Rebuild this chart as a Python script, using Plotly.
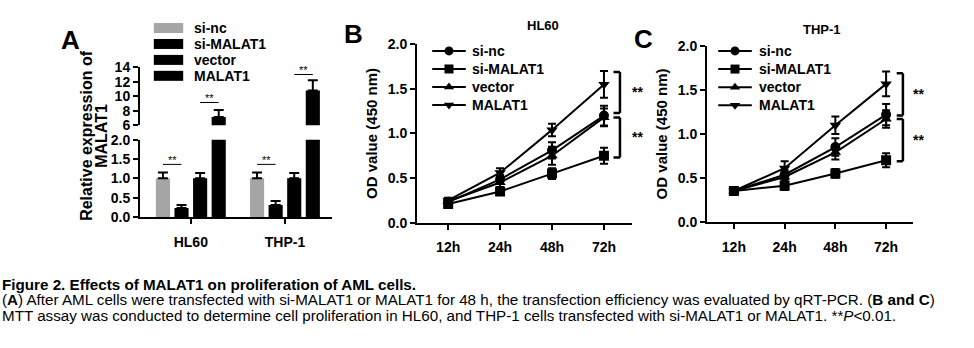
import plotly.graph_objects as go

W, H = 974, 348

# ---------------- data ----------------
series = ["si-nc", "si-MALAT1", "vector", "MALAT1"]
cells = ["HL60", "THP-1"]
bar_vals = {"si-nc": [1.0, 1.0], "si-MALAT1": [0.23, 0.31], "vector": [1.0, 1.0], "MALAT1": [7.15, 10.78]}
bar_errs = {"si-nc": [0.15, 0.15], "si-MALAT1": [0.08, 0.10], "vector": [0.14, 0.14], "MALAT1": [0.95, 1.42]}
bar_colors = {"si-nc": "#a5a5a7", "si-MALAT1": "#000000", "vector": "#000000", "MALAT1": "#000000"}

times = ["12h", "24h", "48h", "72h"]
hl60_vals = {"si-nc": [0.23, 0.485, 0.81, 1.20], "si-MALAT1": [0.21, 0.35, 0.55, 0.75],
             "vector": [0.24, 0.45, 0.75, 1.18], "MALAT1": [0.25, 0.56, 1.04, 1.55]}
hl60_errs = {"si-nc": [0.03, 0.05, 0.09, 0.11], "si-MALAT1": [0.03, 0.04, 0.06, 0.09],
             "vector": [0.03, 0.05, 0.10, 0.10], "MALAT1": [0.03, 0.05, 0.07, 0.15]}
thp1_vals = {"si-nc": [0.35, 0.535, 0.85, 1.22], "si-MALAT1": [0.35, 0.41, 0.55, 0.70],
             "vector": [0.35, 0.51, 0.79, 1.17], "MALAT1": [0.35, 0.61, 1.10, 1.57]}
thp1_errs = {"si-nc": [0.02, 0.05, 0.10, 0.12], "si-MALAT1": [0.02, 0.05, 0.05, 0.08],
             "vector": [0.02, 0.05, 0.08, 0.10], "MALAT1": [0.02, 0.08, 0.10, 0.14]}
symbols = {"si-nc": "circle", "si-MALAT1": "square", "vector": "triangle-up", "MALAT1": "triangle-down"}

caption1 = "<b>Figure 2. Effects of MALAT1 on proliferation of AML cells.</b>"
caption2 = ("(<b>A</b>) After AML cells were transfected with si-MALAT1 or MALAT1 for 48 h, the transfection "
            "efficiency was evaluated by qRT-PCR. (<b>B and C</b>)")
caption3 = ("MTT assay was conducted to determine cell proliferation in HL60, and THP-1 cells transfected "
            "with si-MALAT1 or MALAT1. **<i>P</i>&lt;0.01.")

# ---------------- helpers ----------------
def xd(a, b):
    return [a / W, b / W]

def yd(top, bottom):
    return [1 - bottom / H, 1 - top / H]

FONT = "Liberation Sans, Arial, sans-serif"
BF = dict(family=FONT, size=14, color="black", weight="bold")

fig = go.Figure()

# ---------------- panel A (broken axis bars) ----------------
for s in series:
    for ya in ("y", "y2"):
        fig.add_trace(go.Bar(
            x=cells, y=bar_vals[s], name=s, marker_color=bar_colors[s], marker_line_width=0,
            error_y=dict(type="data", array=bar_errs[s], arrayminus=[0, 0], symmetric=False,
                         color="black", thickness=2, width=5),
            xaxis="x", yaxis=ya, showlegend=False))

# ---------------- panels B, C ----------------
for vals, errs, xa, ya in ((hl60_vals, hl60_errs, "x2", "y3"), (thp1_vals, thp1_errs, "x3", "y4")):
    for s in series:
        fig.add_trace(go.Scatter(
            x=times, y=vals[s], name=s, mode="lines+markers",
            line=dict(color="black", width=2),
            marker=dict(symbol=symbols[s], size=10, color="black"),
            error_y=dict(type="data", array=errs[s], color="black", thickness=2, width=4),
            xaxis=xa, yaxis=ya, showlegend=False))

# ---------------- legends (drawn on hidden helper axes, one row per series) ----------------
ann = []
legend_specs = [
    # (xaxis, yaxis, left px, first row px, row spacing px, symbol centre, text x, kind)
    ("x4", "y5", 158, 21, 16.7, 10.5, 34, "bar"),
    ("x5", "y6", 438, 45, 18.9, 11, 32, "line"),
    ("x6", "y7", 724, 45, 19.0, 11, 33, "line"),
]
legend_layout = {}
for k, (xa, ya, left, row0, sp, sx, tx, kind) in enumerate(legend_specs):
    n = len(series)
    legend_layout["xaxis" + xa[1:]] = dict(domain=xd(left, left + 150), range=[0, 150], visible=False,
                                           anchor=ya, fixedrange=True)
    legend_layout["yaxis" + ya[1:]] = dict(domain=yd(row0 - sp / 2, row0 + sp * (n - 0.5)),
                                           range=[n - 0.5, -0.5], visible=False, anchor=xa, fixedrange=True)
    for i, s in enumerate(series):
        if kind == "bar":
            fig.add_trace(go.Scatter(x=[sx], y=[i], mode="markers", showlegend=False, hoverinfo="skip",
                                     marker=dict(symbol="line-ew", size=21,
                                                 line=dict(width=10, color=bar_colors[s])),
                                     xaxis=xa, yaxis=ya, cliponaxis=False))
        else:
            fig.add_trace(go.Scatter(x=[sx], y=[i], mode="markers", showlegend=False, hoverinfo="skip",
                                     marker=dict(symbol="line-ew", size=24, line=dict(width=2, color="black")),
                                     xaxis=xa, yaxis=ya, cliponaxis=False))
            fig.add_trace(go.Scatter(x=[sx], y=[i], mode="markers", showlegend=False, hoverinfo="skip",
                                     marker=dict(symbol=symbols[s], size=9, color="black"),
                                     xaxis=xa, yaxis=ya, cliponaxis=False))
        ann.append(dict(text=s, x=tx, y=i, xref=xa, yref=ya, showarrow=False, xanchor="left",
                        yanchor="middle", font=BF))

axis_common = dict(showline=True, linecolor="black", linewidth=2, ticks="outside", ticklen=5,
                   tickwidth=2, tickcolor="black", showgrid=False, zeroline=False,
                   tickfont=BF)

layout = dict(
    width=W, height=H, margin=dict(l=0, r=0, t=0, b=0),
    paper_bgcolor="white", plot_bgcolor="rgba(0,0,0,0)",
    barmode="group", bargap=0.21, bargroupgap=0.24,
    font=dict(family=FONT, color="black"), showlegend=False,
    xaxis=dict(domain=xd(140, 332), anchor="y", type="category", range=[-0.54, 1.5],
               ticklabelstandoff=6, **axis_common),
    yaxis=dict(domain=yd(138, 219), anchor="x", range=[0, 2], tickvals=[0, 0.5, 1, 1.5, 2],
               tickformat=".1f", **axis_common),
    yaxis2=dict(domain=yd(62, 123), anchor="x", range=[6, 14], tickvals=[6, 8, 10, 12, 14],
                **axis_common),
    xaxis2=dict(domain=xd(417, 632), anchor="y3", type="category", range=[-0.6, 3.54],
                ticklabelstandoff=6, **axis_common),
    yaxis3=dict(domain=yd(38, 225), anchor="x2", range=[0, 2], dtick=0.5, tickformat=".1f",
                title=dict(text="OD value (450 nm)", font=dict(family=FONT, size=15, weight="bold"),
                           standoff=6),
                **axis_common),
    xaxis3=dict(domain=xd(707, 913), anchor="y4", type="category", range=[-0.53, 3.53],
                ticklabelstandoff=6, **axis_common),
    yaxis4=dict(domain=yd(40, 224), anchor="x3", range=[0, 2], dtick=0.5, tickformat=".1f",
                title=dict(text="OD value (450 nm)", font=dict(family=FONT, size=15, weight="bold"),
                           standoff=6),
                **axis_common),
)
layout.update(legend_layout)
fig.update_layout(**layout)

# panel letters
for txt, px, py in (("A", 70, 34), ("B", 353, 27), ("C", 643, 32)):
    ann.append(dict(text=txt, x=px / W, y=1 - py / H, xref="paper", yref="paper", showarrow=False,
                    font=dict(family=FONT, size=26, weight="bold"), xanchor="center", yanchor="middle"))
# panel A y-title (two rotated lines)
for txt, px in (("Relative expression of", 87), ("MALAT1", 102)):
    ann.append(dict(text=txt, x=px / W, y=1 - 134 / H, xref="paper", yref="paper",
                    showarrow=False, textangle=-90, font=dict(family=FONT, size=16, weight="bold"),
                    xanchor="center", yanchor="middle"))
# titles B, C
ann.append(dict(text="HL60", x=543 / W, y=1 - 18 / H, xref="paper", yref="paper", showarrow=False,
                font=dict(family=FONT, size=13, weight="bold"), xanchor="center", yanchor="middle"))
ann.append(dict(text="THP-1", x=822 / W, y=1 - 23 / H, xref="paper", yref="paper", showarrow=False,
                font=dict(family=FONT, size=13, weight="bold"), xanchor="center", yanchor="middle"))

shapes = []
# significance in panel A
off = [-0.296, -0.099, 0.099, 0.296]
for i in range(2):
    shapes.append(dict(type="line", xref="x", yref="y", x0=i + off[0], x1=i + off[1], y0=1.36, y1=1.36,
                       line=dict(color="black", width=1)))
    ann.append(dict(text="**", x=i + (off[0] + off[1]) / 2, y=1.36, xref="x", yref="y", showarrow=False,
                    yanchor="bottom", yshift=-4, font=dict(family=FONT, size=11)))
sig_up = [9.14, 12.99]
for i in range(2):
    shapes.append(dict(type="line", xref="x", yref="y2", x0=i + off[2], x1=i + off[3], y0=sig_up[i],
                       y1=sig_up[i], line=dict(color="black", width=1)))
    ann.append(dict(text="**", x=i + (off[2] + off[3]) / 2, y=sig_up[i], xref="x", yref="y2", showarrow=False,
                    yanchor="bottom", yshift=-4, font=dict(family=FONT, size=11)))

# brackets B, C
for xa, ya, bx, tick, brs in (("x2", "y3", 0.944, 0.03, [(1.69, 1.23), (1.18, 0.73)]),
                              ("x3", "y4", 0.951, 0.03, [(1.69, 1.21), (1.17, 0.69)])):
    for top, bot in brs:
        for (x0, y0, x1, y1) in ((bx - tick, top, bx, top), (bx, top, bx, bot), (bx - tick, bot, bx, bot)):
            shapes.append(dict(type="line", xref=xa + " domain", yref=ya, x0=x0, x1=x1, y0=y0, y1=y1,
                               line=dict(color="black", width=2.5)))
        ann.append(dict(text="**", x=1.025, y=(top + bot) / 2, xref=xa + " domain", yref=ya, showarrow=False,
                        xanchor="center", yanchor="middle", font=dict(family=FONT, size=14, weight="bold")))

# caption
for txt, py in ((caption1, 290), (caption2, 306), (caption3, 322)):
    ann.append(dict(text=txt, x=0, y=1 - py / H, xref="paper", yref="paper", showarrow=False,
                    xanchor="left", yanchor="middle", align="left",
                    font=dict(family=FONT, size=15.2, color="black")))

fig.update_layout(annotations=ann, shapes=shapes)
fig.write_html("out.html")
